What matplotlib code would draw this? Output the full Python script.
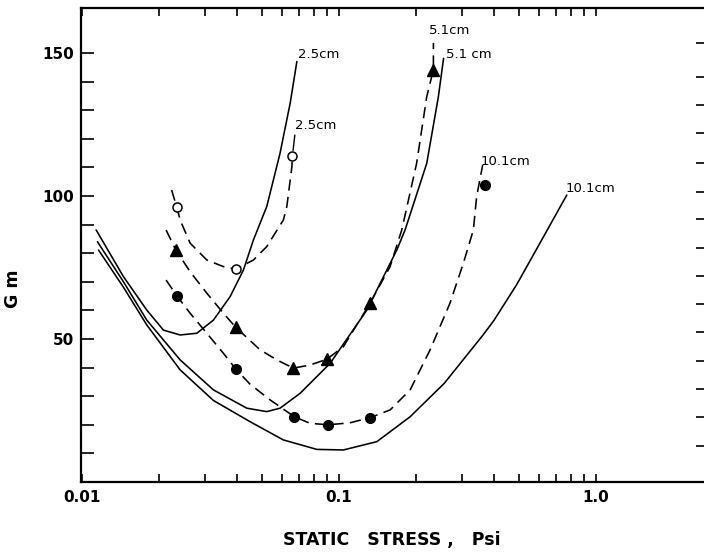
import matplotlib
matplotlib.use('Agg')
import matplotlib.pyplot as plt
from matplotlib.ticker import FixedLocator, NullFormatter

# ---------------- data ----------------
# solid curves
solid_25_x = [0.01134, 0.01448, 0.01785, 0.02072, 0.02406, 0.02795, 0.03243, 0.03766,
              0.04243, 0.0464, 0.0523, 0.0589, 0.0645, 0.0685]
solid_25_y = [88.1, 71.8, 60.1, 53.1, 51.4, 52.0, 56.6, 64.8, 74.1, 84.6, 96.3, 114.9, 132.4, 147.0]

solid_51_x = [0.01147, 0.01448, 0.01785, 0.02406, 0.03243, 0.04375, 0.0523, 0.0589, 0.0705,
              0.0923, 0.1282, 0.1677, 0.1806, 0.2193, 0.2434, 0.255]
solid_51_y = [84.0, 70.0, 56.6, 42.7, 32.2, 25.8, 24.6, 25.8, 31.0, 41.5, 60.1, 81.1, 88.1,
              111.4, 134.7, 148.1]

solid_101_x = [0.01158, 0.01448, 0.01785, 0.02406, 0.03243, 0.045, 0.0607, 0.0819, 0.1039,
               0.1402, 0.1889, 0.2566, 0.364, 0.4005, 0.491, 0.5875, 0.769]
solid_101_y = [81.1, 68.1, 54.9, 39.2, 28.5, 21.1, 14.7, 11.4, 11.2, 14.1, 22.8, 34.5, 51.5,
               56.5, 69.0, 81.5, 100.3]

# dashed curves
dash_25_x = [0.02229, 0.02336, 0.02406, 0.02632, 0.03057, 0.03546, 0.0397, 0.0464, 0.0523,
             0.0607, 0.0626, 0.0655, 0.0658]
dash_25_y = [102.1, 96.0, 91.6, 83.5, 77.6, 75.3, 74.4, 77.6, 82.3, 91.6, 96.3, 110.2, 114.0]

dash_51_x = [0.02122, 0.02315, 0.02632, 0.03057, 0.03546, 0.0396, 0.04927, 0.0572, 0.0664,
             0.0771, 0.0896, 0.1039, 0.132, 0.1579, 0.1753, 0.2003, 0.2193, 0.2328, 0.2328]
dash_51_y = [88.1, 81.1, 73.5, 66.0, 59.0, 54.1, 46.2, 42.7, 39.8, 40.9, 42.9, 47.3, 62.5,
             75.3, 88.1, 111.4, 134.7, 144.1, 153.5]

dash_101_x = [0.02122, 0.02336, 0.02632, 0.03057, 0.03546, 0.0396, 0.045, 0.0539, 0.067,
              0.0771, 0.0909, 0.1103, 0.132, 0.158, 0.189, 0.226, 0.270, 0.3045, 0.333,
              0.343, 0.362]
dash_101_y = [70.6, 65.1, 59.0, 52.0, 45.0, 39.5, 34.2, 28.7, 22.8, 20.5, 20.0, 20.7, 22.5,
              25.2, 32.2, 46.2, 62.5, 76.5, 88.1, 99.8, 110.8]

# measured points
open_x = [0.0234, 0.0397, 0.0658]
open_y = [96.0, 74.4, 114.0]
tri_x = [0.0232, 0.0396, 0.0664, 0.0896, 0.132, 0.2328]
tri_y = [81.1, 54.1, 39.8, 42.9, 62.5, 144.1]
dot_x = [0.0234, 0.0396, 0.067, 0.0909, 0.132, 0.370]
dot_y = [65.1, 39.5, 22.8, 20.0, 22.5, 103.8]

# curve labels
label_texts = ['2.5cm', '2.5cm', '5.1cm', '5.1 cm', '10.1cm', '10.1cm']
label_x = [0.0834, 0.0812, 0.2704, 0.3186, 0.4457, 0.9545]
label_y = [149.3, 124.5, 158.0, 149.3, 112.2, 102.7]

# ticks
x_major = [0.01, 0.1, 1.0]
x_major_labels = ['0.01', '0.1', '1.0']
x_minor = [0.02, 0.03, 0.04, 0.05, 0.06, 0.07, 0.08, 0.09,
           0.2, 0.3, 0.4, 0.5, 0.6, 0.7, 0.8, 0.9]
y_major = [50, 100, 150]
y_minor = [10, 20, 30, 40, 60, 70, 80, 90, 110, 120, 130, 140]
right_ticks = [12.6, 22.7, 32.5, 42.3, 52.4, 62.2, 72.0, 81.8, 92.0, 101.4, 111.5, 122.0,
               131.8, 141.6, 153.5]

# ---------------- figure ----------------
fig = plt.figure(figsize=(7.04, 5.55), dpi=100)
ax = fig.add_axes([81 / 704, 73 / 555, 623 / 704, 474 / 555])
ax.set_xscale('log')
ax.set_xlim(0.0099, 2.63)
ax.set_ylim(0, 165.7)

lw = 1.15
dash = (0, (7, 4))
for xs, ys in [(solid_25_x, solid_25_y), (solid_51_x, solid_51_y), (solid_101_x, solid_101_y)]:
    ax.plot(xs, ys, color='black', lw=lw, solid_capstyle='round', solid_joinstyle='round')
for xs, ys in [(dash_25_x, dash_25_y), (dash_51_x, dash_51_y), (dash_101_x, dash_101_y)]:
    ax.plot(xs, ys, color='black', lw=lw, linestyle=dash)

ax.plot(open_x, open_y, linestyle='none', marker='o', markersize=6.5,
        markerfacecolor='white', markeredgecolor='black', markeredgewidth=1.1)
ax.plot(tri_x, tri_y, linestyle='none', marker='^', markersize=8,
        color='black')
ax.plot(dot_x, dot_y, linestyle='none', marker='o', markersize=7, color='black')

for i, (t, lx, ly) in enumerate(zip(label_texts, label_x, label_y)):
    if i == 1:
        ax.annotate(t, xy=(open_x[-1], open_y[-1]), xytext=(lx, ly),
                    ha='center', va='center', fontsize=9.5,
                    arrowprops=dict(arrowstyle='-', lw=1.0, color='black',
                                    relpos=(0.0, 0.0), shrinkA=0, shrinkB=4))
    else:
        ax.text(lx, ly, t, ha='center', va='center', fontsize=9.5)

# axes styling
ax.spines['right'].set_visible(False)
for s in ['left', 'bottom', 'top']:
    ax.spines[s].set_linewidth(1.6)

ax.set_xticks(x_major)
ax.set_xticklabels(x_major_labels, fontweight='bold')
ax.xaxis.set_minor_locator(FixedLocator(x_minor))
ax.xaxis.set_minor_formatter(NullFormatter())
ax.tick_params(axis='x', which='both', direction='in', top=True, bottom=True,
               length=6, width=1.2, labelsize=11, pad=6)

ax.set_yticks(y_major)
ax.set_yticklabels([str(v) for v in y_major], fontweight='bold')
ax.yaxis.set_minor_locator(FixedLocator(y_minor))
ax.yaxis.set_minor_formatter(NullFormatter())
ax.tick_params(axis='y', which='both', direction='in', left=True, right=False,
               length=9, width=1.2, labelsize=11, pad=5)

twin = ax.twinx()
twin.set_ylim(ax.get_ylim())
twin.set_yticks(right_ticks)
twin.set_yticklabels([])
twin.tick_params(axis='y', direction='in', length=6, width=1.2, right=True, left=False,
                 labelright=False)
for s in twin.spines.values():
    s.set_visible(False)

fig.text(392 / 704, 1 - 540 / 555, 'STATIC   STRESS ,   Psi', ha='center', va='center',
         fontsize=12.5, fontweight='bold')
fig.text(13 / 704, 1 - 289 / 555, 'G m', rotation=90, ha='center', va='center',
         fontsize=12.5, fontweight='bold')

fig.savefig('out.png', dpi=100)
